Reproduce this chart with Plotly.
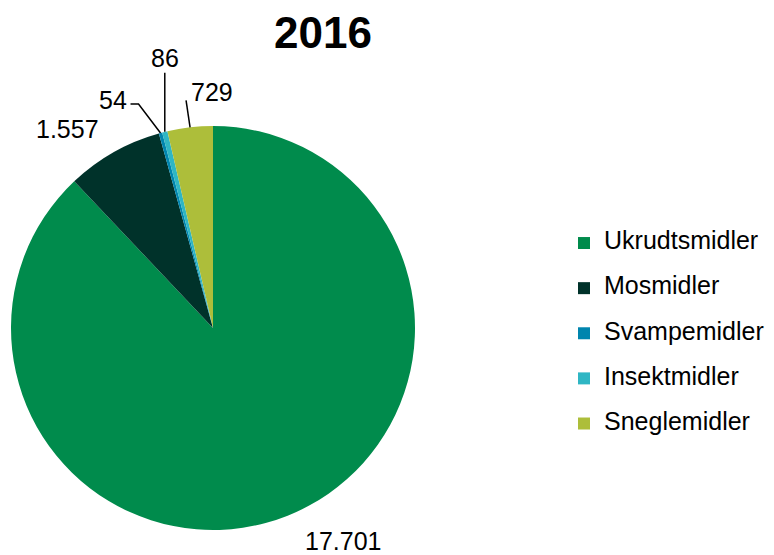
import math
import plotly.graph_objects as go

# ---- data ----
title = "2016"
categories = ["Ukrudtsmidler", "Mosmidler", "Svampemidler", "Insektmidler", "Sneglemidler"]
values = [17701, 1557, 54, 86, 729]
value_labels = ["17.701", "1.557", "54", "86", "729"]
colors = ["#008B4C", "#00322A", "#0085AE", "#2FB6C4", "#ADBE3A"]

# ---- layout geometry (pixels, page coordinates; the page body adds an 8px offset) ----
OFF = 8
W, H = 774 - OFF, 555 - OFF
cx, cy, r = 213 - OFF, 328 - OFF, 202

# label text offsets from the slice's outer-edge midpoint (px), and leader-line bends
label_offsets = [(55, 25), (-46, -23), (-48, -33), (0, -74), (22, -35)]
leader_paths = [None, None, [(-22, -29), (-30, -29)], [(0, -59)], [(-4, -27)]]

LEGEND_TEXT_SIZE = 25
LEGEND_BASE_SIZE = 16.2  # sets the legend row pitch (~45px with a 2-line entry)


def px(x):
    return x / W


def py(y):
    return 1 - y / H


legend_names = [f"<span style='font-size:{LEGEND_TEXT_SIZE}px'>{c}</span><br> " for c in categories]

fig = go.Figure()
fig.add_trace(go.Pie(
    labels=legend_names,
    values=values,
    sort=False,
    direction="clockwise",
    rotation=0,
    textinfo="none",
    hovertemplate=[f"{c}: %{{value}}<extra></extra>" for c in categories],
    marker=dict(colors=colors, line=dict(width=0)),
    domain=dict(x=[px(cx - r), px(cx + r)], y=[py(cy + r), py(cy - r)]),
))

total = sum(values)
cum = 0.0
annotations = []
shapes = []
for i, v in enumerate(values):
    mid = (cum + v / 2) / total * 2 * math.pi
    cum += v
    ex = cx + r * math.sin(mid)
    ey = cy - r * math.cos(mid)
    dx, dy = label_offsets[i]
    annotations.append(dict(
        x=px(ex + dx), y=py(ey + dy), xref="paper", yref="paper",
        text=value_labels[i], showarrow=False,
        xanchor="center", yanchor="middle",
        font=dict(family="Liberation Sans, Arial", size=25, color="#000000"),
    ))
    if leader_paths[i]:
        pts = [(ex, ey)] + [(ex + a, ey + b) for a, b in leader_paths[i]]
        path = "M " + " L ".join(f"{px(x)},{py(y)}" for x, y in pts)
        shapes.append(dict(type="path", xref="paper", yref="paper", path=path,
                           line=dict(color="#000000", width=1.5)))

fig.update_layout(
    width=W, height=H,
    margin=dict(l=0, r=0, t=0, b=0),
    paper_bgcolor="white", plot_bgcolor="white",
    title=dict(text="<b>" + title + "</b>", x=(323 - OFF) / W, xanchor="center",
               y=py(33 - OFF), yanchor="middle",
               font=dict(family="Liberation Sans, Arial", size=44, color="#000000")),
    legend=dict(x=(604 - OFF - 40) / W, xanchor="left", y=py(344 - OFF), yanchor="middle",
                valign="top",
                font=dict(family="Liberation Sans, Arial", size=LEGEND_BASE_SIZE, color="#000000"),
                bgcolor="rgba(0,0,0,0)"),
    annotations=annotations,
    shapes=shapes,
)

fig.write_html("out.html")
